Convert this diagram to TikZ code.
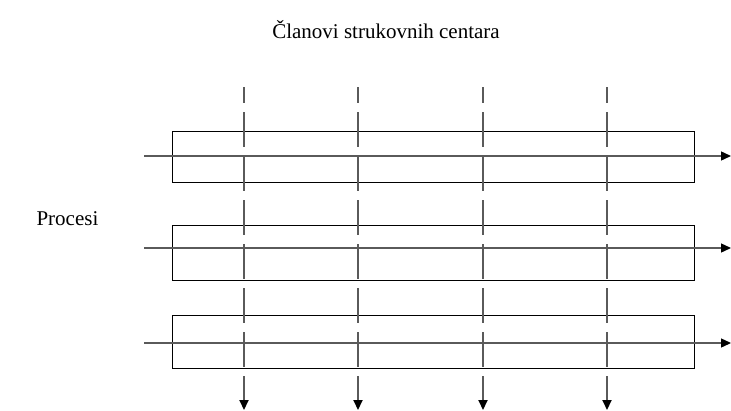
\documentclass[tikz,border=0pt]{standalone}
\usepackage{fontspec}
\setmainfont{Liberation Serif}
\usetikzlibrary{arrows.meta}
\definecolor{flowgray}{RGB}{90,90,90}

\begin{document}
\begin{tikzpicture}[x=1pt,y=-1pt,
    proc/.style={draw, line width=1pt, inner sep=0pt, minimum width=522pt},
    flow/.style={draw=flowgray, line width=1.4pt, -{Triangle[length=10pt,width=9pt,color=black]}},
    member/.style={draw=flowgray, line width=2pt, dash pattern=on 35pt off 9pt, dash phase=19pt,
      -{Triangle[length=10pt,width=9pt,color=black]}}]
  \useasboundingbox (0,0) rectangle (731,410);
  \node [font=\fontsize{21}{24}\selectfont, anchor=base] (title) at (386,38) {Članovi strukovnih centara};
  \node [font=\fontsize{21}{24}\selectfont, anchor=base west] (label) at (33,225) {Procesi};
  % process boxes with their flows:
  \foreach \top/\bot/\flowy [count = \i] in {131/182/156, 225/280/248, 315/368/343} {
    \node [proc, minimum height=\bot-\top] (p\i) at (433,{(\top+\bot)/2}) {};
    \coordinate (in\i) at (144,\flowy);
    \coordinate (out\i) at (731,\flowy);
    \draw [flow] (in\i) -- (out\i);
  }
  % members cutting across the processes:
  \foreach \x [count = \j] in {244, 358, 483, 607} {
    \coordinate (m\j) at (\x,87);
    \coordinate (e\j) at (\x,410);
    \draw [member] (m\j) -- (e\j);
  }
\end{tikzpicture}
\end{document}
